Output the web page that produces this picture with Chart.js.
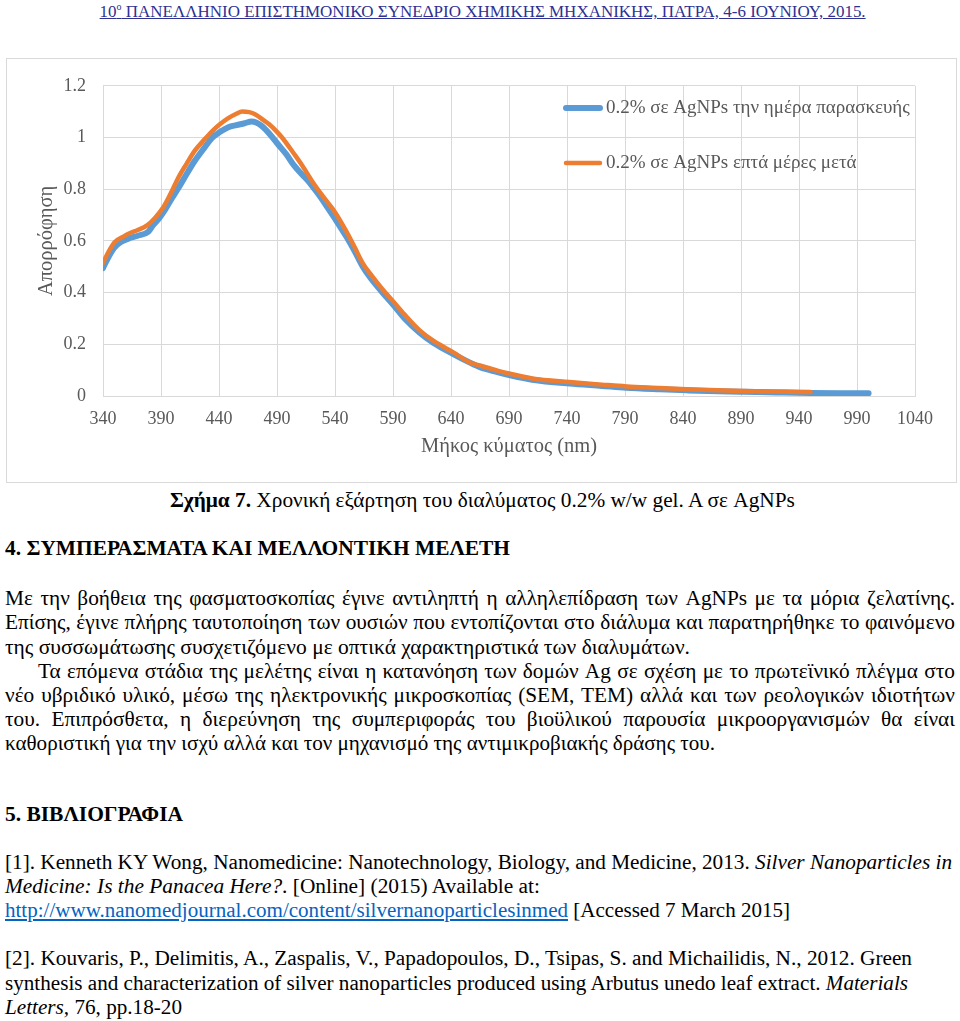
<!DOCTYPE html>
<html><head><meta charset="utf-8">
<script src="https://cdn.jsdelivr.net/npm/chart.js@4.4.1/dist/chart.umd.min.js"></script>
<style>
@font-face{font-family:"GkSerif";src:local("DejaVu Serif"),local("DejaVuSerif");unicode-range:U+0370-03FF,U+1F00-1FFF;size-adjust:90%;}
@font-face{font-family:"GkSerif";font-weight:bold;src:local("DejaVu Serif Bold"),local("DejaVuSerif-Bold");unicode-range:U+0370-03FF,U+1F00-1FFF;size-adjust:90%;}
@font-face{font-family:"GkSerif";font-style:italic;src:local("DejaVu Serif Italic"),local("DejaVuSerif-Italic");unicode-range:U+0370-03FF,U+1F00-1FFF;size-adjust:90%;}
html,body{margin:0;padding:0;background:#fff;}
#page{position:relative;width:960px;height:1021px;overflow:hidden;font-family:"Liberation Serif","GkSerif","DejaVu Serif",serif;color:#000;}
#frame{position:absolute;left:6px;top:58px;width:951px;height:425px;border:1px solid #d9d9d9;box-sizing:border-box;}
#cw{position:absolute;left:6px;top:58px;width:951px;height:425px;}
.ln{position:absolute;left:5px;font-size:21.3px;line-height:24.3px;white-space:nowrap;}
.ln > span{display:inline-block;transform-origin:0 50%;}
.c{text-align:center;left:0;width:965px;}
.c > span{transform-origin:50% 50%;}
.hdr{font-size:17px;line-height:20px;color:#2e3192;text-decoration:underline;}
.hdr > span{text-decoration:underline;}
a{color:#0563c1;text-decoration:underline;}
</style></head>
<body><div id="page">
<div class="ln c hdr" style="top:2px;" data-w="766"><span>10<sup style="font-size:10px;line-height:0;">ο</sup> ΠΑΝΕΛΛΗΝΙΟ ΕΠΙΣΤΗΜΟΝΙΚΟ ΣΥΝΕΔΡΙΟ ΧΗΜΙΚΗΣ ΜΗΧΑΝΙΚΗΣ, ΠΑΤΡΑ, 4-6 ΙΟΥΝΙΟΥ, 2015.</span></div>
<div id="frame"></div>
<div id="cw"><canvas id="chart" width="951" height="425"></canvas></div>

<div class="ln c" style="top:488px;" data-w="625"><span><b>Σχήμα 7.</b> Χρονική εξάρτηση του διαλύματος 0.2% w/w gel. A σε AgNPs</span></div>
<div class="ln" style="top:536px;" data-w="505"><span><b>4. ΣΥΜΠΕΡΑΣΜΑΤΑ ΚΑΙ ΜΕΛΛΟΝΤΙΚΗ ΜΕΛΕΤΗ</b></span></div>
<div class="ln j" style="top:586px;" data-w="950"><span>Με την βοήθεια της φασματοσκοπίας έγινε αντιληπτή η αλληλεπίδραση των AgNPs με τα μόρια ζελατίνης.</span></div>
<div class="ln j" style="top:610px;" data-w="950"><span>Επίσης, έγινε πλήρης ταυτοποίηση των ουσιών που εντοπίζονται στο διάλυμα και παρατηρήθηκε το φαινόμενο</span></div>
<div class="ln" style="top:635px;" data-w="685"><span>της συσσωμάτωσης συσχετιζόμενο με οπτικά χαρακτηριστικά των διαλυμάτων.</span></div>
<div class="ln j" style="top:659px;left:38px;" data-w="917"><span>Τα επόμενα στάδια της μελέτης είναι η κατανόηση των δομών Ag σε σχέση με το πρωτεϊνικό πλέγμα στο</span></div>
<div class="ln j" style="top:683px;" data-w="950"><span>νέο υβριδικό υλικό, μέσω της ηλεκτρονικής μικροσκοπίας (SEM, TEM) αλλά και των ρεολογικών ιδιοτήτων</span></div>
<div class="ln j" style="top:707px;" data-w="950"><span>του. Επιπρόσθετα, η διερεύνηση της συμπεριφοράς του βιοϋλικού παρουσία μικροοργανισμών θα είναι</span></div>
<div class="ln" style="top:731px;" data-w="710"><span>καθοριστική για την ισχύ αλλά και τον μηχανισμό της αντιμικροβιακής δράσης του.</span></div>
<div class="ln" style="top:802px;" data-w="178"><span><b>5. ΒΙΒΛΙΟΓΡΑΦΙΑ</b></span></div>
<div class="ln j" style="top:850px;" data-w="947"><span>[1]. Kenneth KY Wong, Nanomedicine: Nanotechnology, Biology, and Medicine, 2013. <i>Silver Nanoparticles in</i></span></div>
<div class="ln" style="top:874px;" data-w="535"><span><i>Medicine: Is the Panacea Here?</i>. [Online] (2015) Available at:</span></div>
<div class="ln" style="top:898px;" data-w="785"><span><a>http://www.nanomedjournal.com/content/silvernanoparticlesinmed</a> [Accessed 7 March 2015]</span></div>
<div class="ln" style="top:946px;" data-w="907"><span>[2]. Kouvaris, P., Delimitis, A., Zaspalis, V., Papadopoulos, D., Tsipas, S. and Michailidis, N., 2012. Green</span></div>
<div class="ln" style="top:971px;" data-w="903"><span>synthesis and characterization of silver nanoparticles produced using Arbutus unedo leaf extract. <i>Materials</i></span></div>
<div class="ln" style="top:995px;" data-w="177"><span><i>Letters,</i> 76, pp.18-20</span></div>
</div>
<script>
// Series: freshly prepared solution (blue)
const wavelengthFresh = [340,345,350,355,362,370,379,383,388,392,398,405,412,419,427,434,441,448,455,462,468,472,477,484,491,498,505,512,518,525,532,540,550,557,564,570,580,590,600,613,625,642,655,665,680,691,710,742,770,791,820,843,870,892,920,950,975,1000];
const absorbanceFresh = [0.495,0.54,0.575,0.595,0.609,0.620,0.635,0.66,0.685,0.71,0.755,0.805,0.858,0.909,0.958,0.998,1.022,1.040,1.048,1.055,1.062,1.058,1.044,1.012,0.973,0.935,0.89,0.855,0.826,0.785,0.74,0.686,0.615,0.56,0.50,0.46,0.405,0.354,0.30,0.245,0.205,0.162,0.132,0.111,0.092,0.080,0.063,0.048,0.039,0.032,0.026,0.022,0.018,0.016,0.014,0.012,0.011,0.0105];
// Series: seven days later (orange)
const wavelengthAged = [340,345,350,357,362,370,378,385,392,398,405,412,419,427,434,441,448,455,460,466,471,479,483,490,494,505,512,521,530,540,550,557,564,570,580,590,600,613,625,642,656,665,680,691,710,742,770,791,820,843,870,892,920,950];
const absorbanceAged = [0.515,0.56,0.595,0.615,0.628,0.642,0.66,0.69,0.73,0.78,0.845,0.898,0.948,0.99,1.024,1.052,1.075,1.092,1.101,1.098,1.09,1.065,1.052,1.022,1.002,0.935,0.89,0.826,0.77,0.711,0.635,0.575,0.513,0.475,0.418,0.367,0.315,0.254,0.213,0.169,0.130,0.118,0.098,0.086,0.068,0.054,0.044,0.037,0.031,0.026,0.022,0.019,0.017,0.015];
const seriesLabels = ['0.2% σε AgNPs την ημέρα παρασκευής','0.2% σε AgNPs επτά μέρες μετά'];
const xTicks = [340,390,440,490,540,590,640,690,740,790,840,890,940,990,1040];
const yTicks = [0,0.2,0.4,0.6,0.8,1,1.2];
const xTitle = 'Μήκος κύματος (nm)';
const yTitle = 'Απορρόφηση';

const toXY = (xs, ys) => xs.map((x, i) => ({x: x, y: ys[i]}));
const FONT = '"Liberation Serif","GkSerif","DejaVu Serif",serif';
const GREY = '#595959';
const GRID = '#d9d9d9';

function fitLines() {
  document.querySelectorAll('.ln').forEach(el => {
    const span = el.firstElementChild;
    span.style.transform = '';
    span.style.wordSpacing = '';
    const target = parseFloat(el.dataset.w);
    const natural = span.getBoundingClientRect().width;
    if (!target || !natural) return;
    if (el.classList.contains('j') && natural < target) {
      const spaces = span.textContent.split(' ').length - 1;
      span.style.wordSpacing = ((target - natural) / spaces) + 'px';
    } else {
      span.style.transform = 'scaleX(' + (target / natural) + ')';
    }
  });
}

const insideLegend = {
  id: 'insideLegend',
  afterDraw(chart) {
    const ctx = chart.ctx;
    ctx.save();
    const rows = [50, 105];
    chart.data.datasets.forEach((ds, i) => {
      const y = rows[i];
      ctx.beginPath();
      ctx.lineCap = 'round';
      ctx.strokeStyle = ds.borderColor;
      ctx.lineWidth = ds.borderWidth;
      ctx.moveTo(560, y);
      ctx.lineTo(594, y);
      ctx.stroke();
      ctx.fillStyle = GREY;
      ctx.font = '19px ' + FONT;
      ctx.textBaseline = 'middle';
      ctx.textAlign = 'left';
      ctx.fillText(ds.label, 600, y);
    });
    ctx.restore();
  }
};

const chart = new Chart(document.getElementById('chart'), {
  type: 'line',
  data: {
    datasets: [
      {label: seriesLabels[0], data: toXY(wavelengthFresh, absorbanceFresh), borderColor: '#5b9bd5', backgroundColor: '#5b9bd5', borderWidth: 6, order: 2},
      {label: seriesLabels[1], data: toXY(wavelengthAged, absorbanceAged), borderColor: '#ed7d31', backgroundColor: '#ed7d31', borderWidth: 4.5, order: 1}
    ]
  },
  options: {
    responsive: false,
    animation: false,
    devicePixelRatio: 1,
    layout: {padding: {left: 0, top: 24, right: 42, bottom: 0}},
    elements: {
      point: {radius: 0, hoverRadius: 0},
      line: {cubicInterpolationMode: 'monotone', borderCapStyle: 'round', borderJoinStyle: 'round', fill: false}
    },
    plugins: {legend: {display: false}, tooltip: {enabled: false}},
    scales: {
      x: {
        type: 'linear', min: 340, max: 1040,
        afterBuildTicks: s => { s.ticks = xTicks.map(v => ({value: v})); },
        afterFit: s => { s.height = 87; },
        ticks: {color: GREY, font: {family: FONT, size: 18}, padding: 12, maxRotation: 0, autoSkip: false, callback: v => String(v)},
        grid: {color: GRID, lineWidth: 1, drawTicks: false},
        border: {color: GRID, width: 1},
        title: {display: true, text: xTitle, color: GREY, font: {family: FONT, size: 20.5}, padding: {top: 0, bottom: 24}}
      },
      y: {
        min: 0, max: 1.2,
        afterBuildTicks: s => { s.ticks = yTicks.map(v => ({value: v})); },
        afterFit: s => { s.width = 97; },
        ticks: {color: GREY, font: {family: FONT, size: 18}, padding: 17, callback: v => String(v)},
        grid: {color: GRID, lineWidth: 1, drawTicks: false},
        border: {color: GRID, width: 1},
        title: {display: true, text: yTitle, color: GREY, font: {family: FONT, size: 20.5}, padding: {top: 28, bottom: 0}}
      }
    }
  },
  plugins: [insideLegend]
});

fitLines();
Promise.all([
  document.fonts.load('20px GkSerif', 'αβγ'),
  document.fonts.load('bold 20px GkSerif', 'αβγ'),
  document.fonts.load('italic 20px "Liberation Serif"', 'abc')
]).catch(() => {}).then(() => { fitLines(); chart.update(); });
</script>
</body></html>
